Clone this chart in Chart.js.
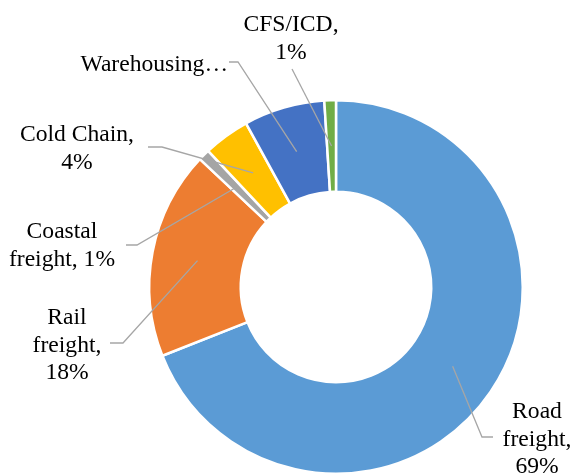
<!DOCTYPE html>
<html>
<head>
  <meta charset="UTF-8">
  <script src="https://cdn.jsdelivr.net/npm/chart.js"></script>
  <title>Freight share</title>
  <style>
    html, body { margin: 0; padding: 0; background: #fff; overflow: hidden; }
    #wrap { width: 572px; height: 490px; }
  </style>
</head>
<body>
  <div id="wrap"><canvas id="myChart" width="572" height="490"></canvas></div>
  <script>
    var categories = ['Road freight', 'Rail freight', 'Coastal freight', 'Cold Chain', 'Warehousing', 'CFS/ICD'];
    var shares = [69, 18, 1, 4, 7, 1];
    var colors = ['#5B9BD5', '#ED7D31', '#A5A5A5', '#FFC000', '#4472C4', '#70AD47'];
    // how each data label breaks into lines, {p} = percentage
    var labelLines = [
      ['Road', 'freight,', '{p}'],
      ['Rail', 'freight,', '{p}'],
      ['Coastal', 'freight, {p}'],
      ['Cold Chain,', '{p}'],
      ['Warehousing…'],
      ['CFS/ICD,', '{p}']
    ];

    // where the labels sit and how the leader lines bend
    var labelPos = [
      { x: 537, y: 412, align: 'center', path: [[482, 437], [493, 437]] },
      { x: 67, y: 318, align: 'center', path: [[123, 343], [110, 343]] },
      { x: 62, y: 232, align: 'center', path: [[137, 245], [126, 245]] },
      { x: 77, y: 135, align: 'center', path: [[162, 147], [148, 147]] },
      { x: 228, y: 65, align: 'right', path: [[238, 62], [229, 62]] },
      { x: 291, y: 25, align: 'center', path: [[292, 69]] }
    ];

    var total = shares.reduce(function (a, b) { return a + b; }, 0);
    var labelFont = '23.6px "Liberation Serif", "Times New Roman", serif';

    var labelPlugin = {
      id: 'leaderLabels',
      afterDraw: function (chart) {
        var ctx = chart.ctx;
        var arcs = chart.getDatasetMeta(0).data;
        ctx.save();
        // leader lines
        ctx.strokeStyle = '#A6A6A6';
        ctx.lineWidth = 1.3;
        arcs.forEach(function (arc, i) {
          var p = arc.tooltipPosition();
          var pts = labelPos[i].path;
          ctx.beginPath();
          ctx.moveTo(p.x, p.y);
          pts.forEach(function (pt) { ctx.lineTo(pt[0], pt[1]); });
          ctx.stroke();
        });
        // texts
        ctx.fillStyle = '#000';
        ctx.font = labelFont;
        ctx.textBaseline = 'middle';
        labelLines.forEach(function (lines, i) {
          var pct = Math.round(shares[i] / total * 100) + '%';
          var pos = labelPos[i];
          ctx.textAlign = pos.align;
          lines.forEach(function (t, k) {
            ctx.fillText(t.replace('{p}', pct), pos.x, pos.y + k * 27.5);
          });
        });
        ctx.restore();
      }
    };

    var ctx = document.getElementById('myChart').getContext('2d');
    var chart = new Chart(ctx, {
      type: 'doughnut',
      data: {
        labels: categories,
        datasets: [{
          data: shares,
          backgroundColor: colors,
          borderColor: '#fff',
          borderWidth: 2.5
        }]
      },
      options: {
        responsive: false,
        animation: false,
        cutout: '51%',
        layout: { padding: { left: 148, right: 48, top: 98, bottom: 14 } },
        plugins: {
          legend: { display: false },
          tooltip: { enabled: false }
        }
      },
      plugins: [labelPlugin]
    });
  </script>
</body>
</html>
